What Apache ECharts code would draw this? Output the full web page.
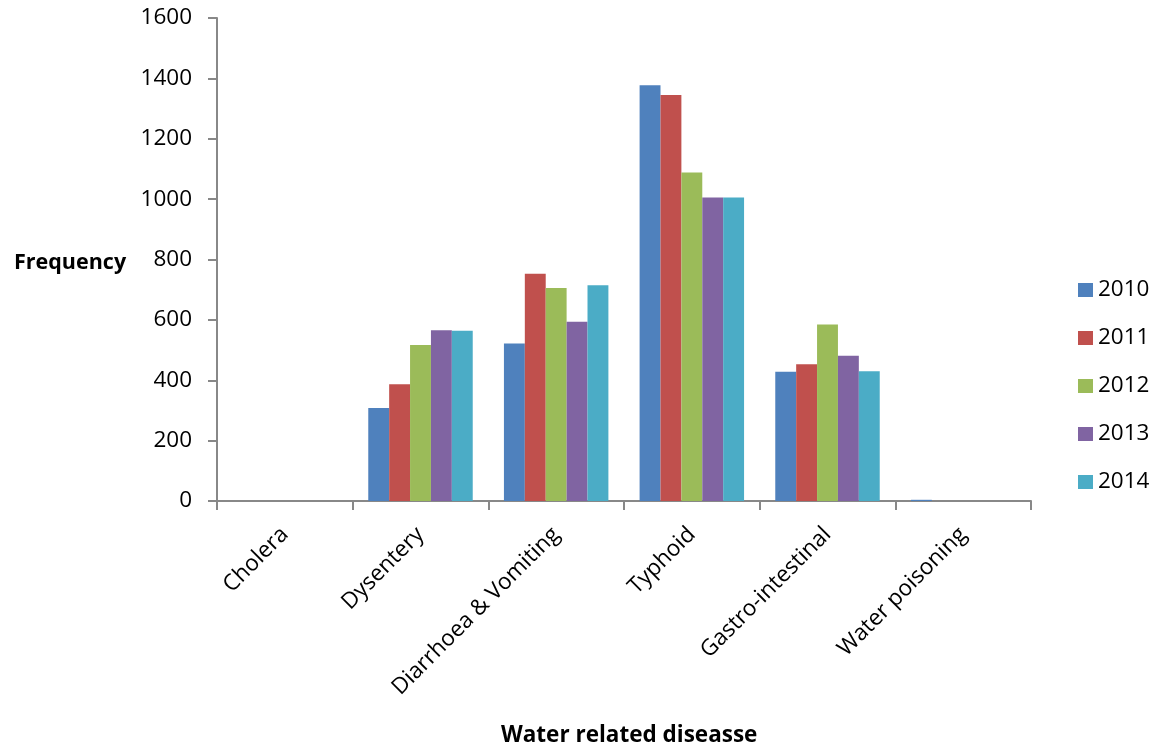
<!DOCTYPE html>
<html>
<head>
<meta charset="utf-8">
<script src="https://cdn.jsdelivr.net/npm/echarts@6/dist/echarts.min.js"></script>
<style>html,body{margin:0;padding:0;background:#fff}#c{width:1154px;height:746px}</style>
</head>
<body>
<div id="c"></div>
<script>
const categories = ['Cholera', 'Dysentery', 'Diarrhoea & Vomiting', 'Typhoid', 'Gastro-intestinal', 'Water poisoning'];
const years = ['2010', '2011', '2012', '2013', '2014'];
const s2010 = [0, 308, 522, 1377, 428, 4];
const s2011 = [0, 387, 753, 1345, 453, 0];
const s2012 = [0, 517, 706, 1088, 585, 0];
const s2013 = [0, 566, 594, 1005, 481, 0];
const s2014 = [0, 564, 715, 1005, 430, 0];
const seriesValues = [s2010, s2011, s2012, s2013, s2014];
const colors = ['#4F81BD', '#C0504D', '#9BBB59', '#8064A2', '#4BACC6'];
const FONT = 'Open Sans';

const chart = echarts.init(document.getElementById('c'), null, {renderer: 'canvas'});
chart.setOption({
  animation: false,
  color: colors,
  textStyle: {fontFamily: FONT},
  title: [
    {text: 'Frequency', left: 9, top: 247, textStyle: {fontFamily: FONT, fontSize: 21.5, fontWeight: 'bold', color: '#000'}},
    {text: 'Water related diseasse', left: 496, top: 719, textStyle: {fontFamily: FONT, fontSize: 22.5, fontWeight: 'bold', color: '#000'}}
  ],
  legend: {
    orient: 'vertical', left: 1073, top: 273,
    itemWidth: 15, itemHeight: 14, itemGap: 24,
    icon: 'rect',
    textStyle: {fontFamily: FONT, fontSize: 22.5, lineHeight: 24, color: '#000'},
    data: years
  },
  grid: {left: 217, right: 123, top: 18, bottom: 245, containLabel: false},
  xAxis: {
    type: 'category', data: categories,
    axisLine: {lineStyle: {color: '#888', width: 2}},
    axisTick: {show: true, length: 9, lineStyle: {color: '#888', width: 2}},
    axisLabel: {rotate: 45, fontSize: 22.5, color: '#000', fontFamily: FONT, margin: 30, interval: 0}
  },
  yAxis: {
    type: 'value', min: 0, max: 1600, interval: 200,
    splitLine: {show: false},
    axisLine: {show: true, lineStyle: {color: '#888', width: 2}},
    axisTick: {show: true, length: 9, lineStyle: {color: '#888', width: 2}},
    axisLabel: {fontSize: 22.5, color: '#000', fontFamily: FONT, margin: 25, formatter: v => String(v)}
  },
  series: years.map((y, i) => ({
    name: y, type: 'bar', data: seriesValues[i],
    barGap: '0%', barCategoryGap: '23%',
    itemStyle: {color: colors[i]}
  }))
});
</script>
</body>
</html>
